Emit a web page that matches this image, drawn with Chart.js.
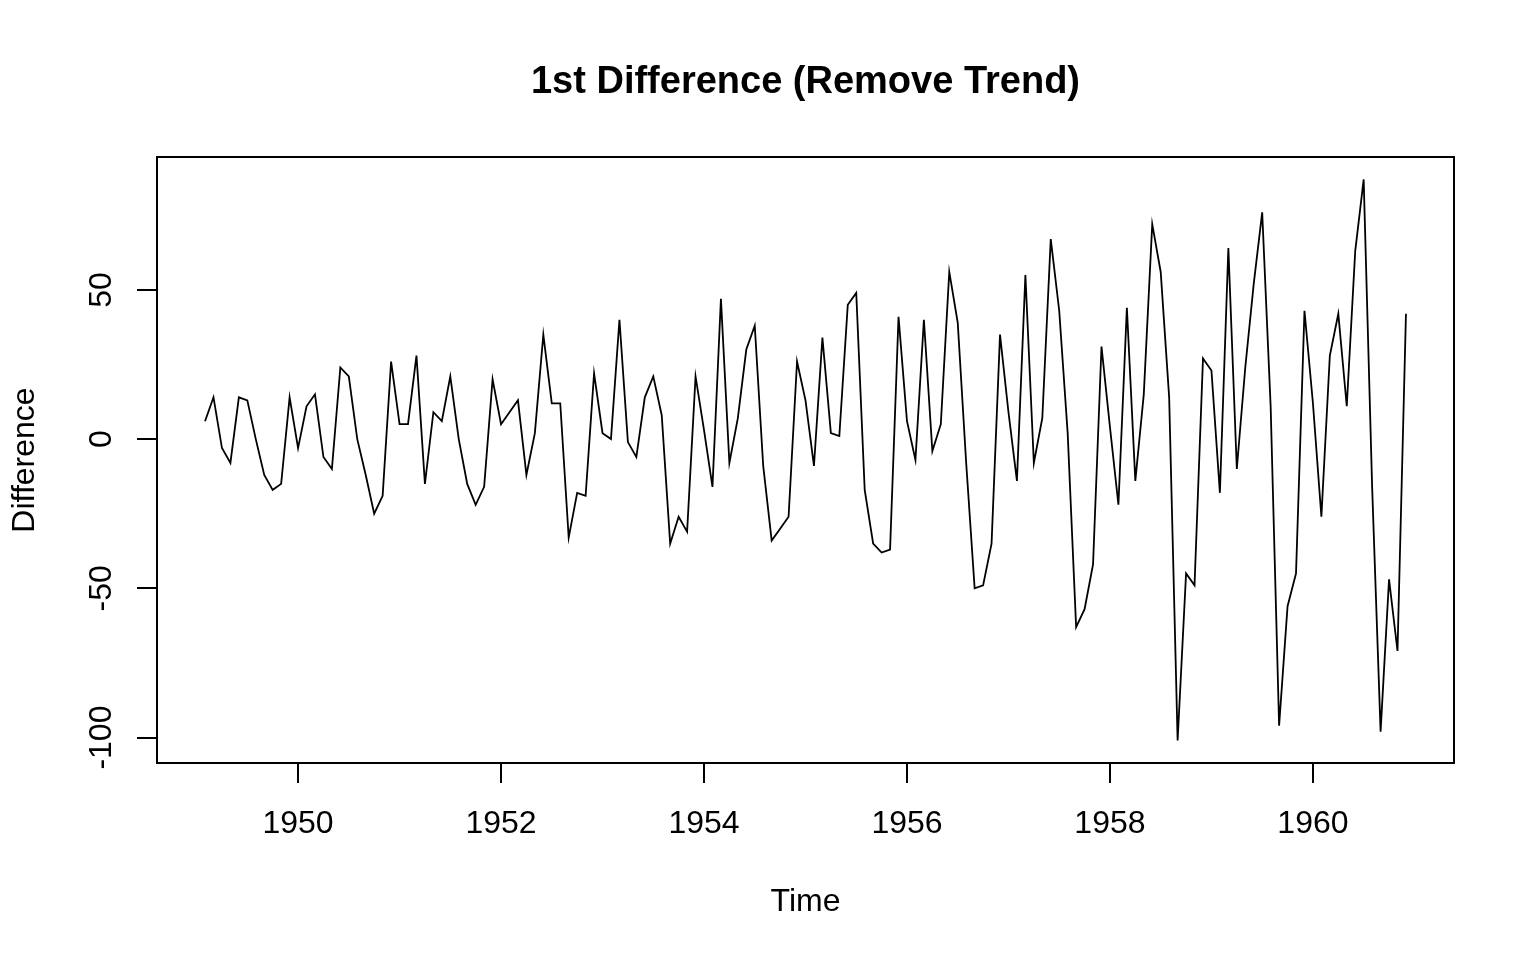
<!DOCTYPE html>
<html>
<head>
<meta charset="utf-8">
<script src="https://cdn.jsdelivr.net/npm/chart.js@4.4.1/dist/chart.umd.min.js"></script>
<style>
  body { margin: 0; background: #fff; }
  canvas { display: block; }
</style>
</head>
<body>
<canvas id="myChart" width="1536" height="960"></canvas>
<script>
// first differences of monthly passengers, one array per year (1949 starts in Feb)
const diff1949 = [6, 14, -3, -8, 14, 13, 0, -12, -17, -15, 14];
const diff1950 = [-3, 11, 15, -6, -10, 24, 21, 0, -12, -25, -19, 26];
const diff1951 = [5, 5, 28, -15, 9, 6, 21, 0, -15, -22, -16, 20];
const diff1952 = [5, 9, 13, -12, 2, 35, 12, 12, -33, -18, -19, 22];
const diff1953 = [2, 0, 40, -1, -6, 14, 21, 8, -35, -26, -31, 21];
const diff1954 = [3, -16, 47, -8, 7, 30, 38, -9, -34, -30, -26, 26];
const diff1955 = [13, -9, 34, 2, 1, 45, 49, -17, -35, -38, -37, 41];
const diff1956 = [6, -7, 40, -4, 5, 56, 39, -8, -50, -49, -35, 35];
const diff1957 = [9, -14, 55, -8, 7, 67, 43, 2, -63, -57, -42, 31];
const diff1958 = [4, -22, 44, -14, 15, 72, 56, 14, -101, -45, -49, 27];
const diff1959 = [23, -18, 64, -10, 24, 52, 76, 11, -96, -56, -45, 43];
const diff1960 = [12, -26, 28, 42, 11, 63, 87, -16, -98, -47, -71, 42];

const years = [1949, 1950, 1951, 1952, 1953, 1954, 1955, 1956, 1957, 1958, 1959, 1960];
const yearData = [diff1949, diff1950, diff1951, diff1952, diff1953, diff1954,
                  diff1955, diff1956, diff1957, diff1958, diff1959, diff1960];

const xTicks = [1950, 1952, 1954, 1956, 1958, 1960];
const yTicks = [-100, -50, 0, 50];

// build {x: time, y: value}
let points = [];
years.forEach((yr, k) => {
  const vals = yearData[k];
  const firstMonth = 12 - vals.length; // 1949 starts at month index 1
  vals.forEach((v, m) => {
    points.push({ x: yr + (firstMonth + m) / 12, y: v });
  });
});

// R style 4% range extension
const xs = points.map(p => p.x), ys = points.map(p => p.y);
const xMin = Math.min(...xs), xMax = Math.max(...xs);
const yMin = Math.min(...ys), yMax = Math.max(...ys);
const xPad = (xMax - xMin) * 0.04, yPad = (yMax - yMin) * 0.04;

const FONT = '"Liberation Sans", Arial, sans-serif';

const rPlot = {
  id: 'rPlot',
  afterDraw(chart) {
    const ctx = chart.ctx;
    const a = chart.chartArea;
    const ys = chart.scales.y;
    ctx.save();
    // box
    ctx.strokeStyle = '#000';
    ctx.lineWidth = 2;
    ctx.strokeRect(a.left, a.top, a.right - a.left, a.bottom - a.top);

    // rotated y tick labels
    ctx.fillStyle = '#000';
    ctx.font = '32px ' + FONT;
    ctx.textAlign = 'center';
    ctx.textBaseline = 'alphabetic';
    yTicks.forEach(v => {
      const py = ys.getPixelForValue(v);
      ctx.save();
      ctx.translate(111, py);
      ctx.rotate(-Math.PI / 2);
      ctx.fillText(String(v), 0, 0);
      ctx.restore();
    });

    // title
    const cx = (a.left + a.right) / 2;
    ctx.font = 'bold 38px ' + FONT;
    ctx.fillText('1st Difference (Remove Trend)', cx, 93);

    // axis titles
    ctx.font = '32px ' + FONT;
    ctx.fillText('Time', cx, 911);
    ctx.save();
    ctx.translate(34, (a.top + a.bottom) / 2);
    ctx.rotate(-Math.PI / 2);
    ctx.fillText('Difference', 0, 0);
    ctx.restore();
    ctx.restore();
  }
};

const data = {
  datasets: [{
    label: 'Difference',
    data: points,
    borderColor: '#000',
    borderWidth: 1.8,
    pointRadius: 0,
    tension: 0,
    fill: false
  }]
};

const config = {
  type: 'line',
  data,
  options: {
    responsive: false,
    animation: false,
    devicePixelRatio: 1,
    layout: { padding: { left: 0, top: 157, right: 82, bottom: 0 } },
    plugins: { legend: { display: false }, tooltip: { enabled: false }, title: { display: false } },
    scales: {
      x: {
        type: 'linear',
        min: xMin - xPad,
        max: xMax + xPad,
        afterBuildTicks: s => { s.ticks = xTicks.map(v => ({ value: v })); },
        afterFit: s => { s.height = 197; },
        ticks: {
          callback: v => String(v),
          color: '#000',
          font: { family: FONT, size: 32 },
          padding: 22,
          maxRotation: 0,
          autoSkip: false
        },
        grid: { drawOnChartArea: false, drawTicks: true, tickLength: 20, color: '#000', lineWidth: 2 },
        border: { display: false }
      },
      y: {
        type: 'linear',
        min: yMin - yPad,
        max: yMax + yPad,
        afterBuildTicks: s => { s.ticks = yTicks.map(v => ({ value: v })); },
        afterFit: s => { s.width = 157; },
        ticks: { display: false },
        grid: { drawOnChartArea: false, drawTicks: true, tickLength: 20, color: '#000', lineWidth: 2 },
        border: { display: false }
      }
    }
  },
  plugins: [rPlot]
};

const myChart = new Chart(document.getElementById('myChart'), config);
</script>
</body>
</html>
